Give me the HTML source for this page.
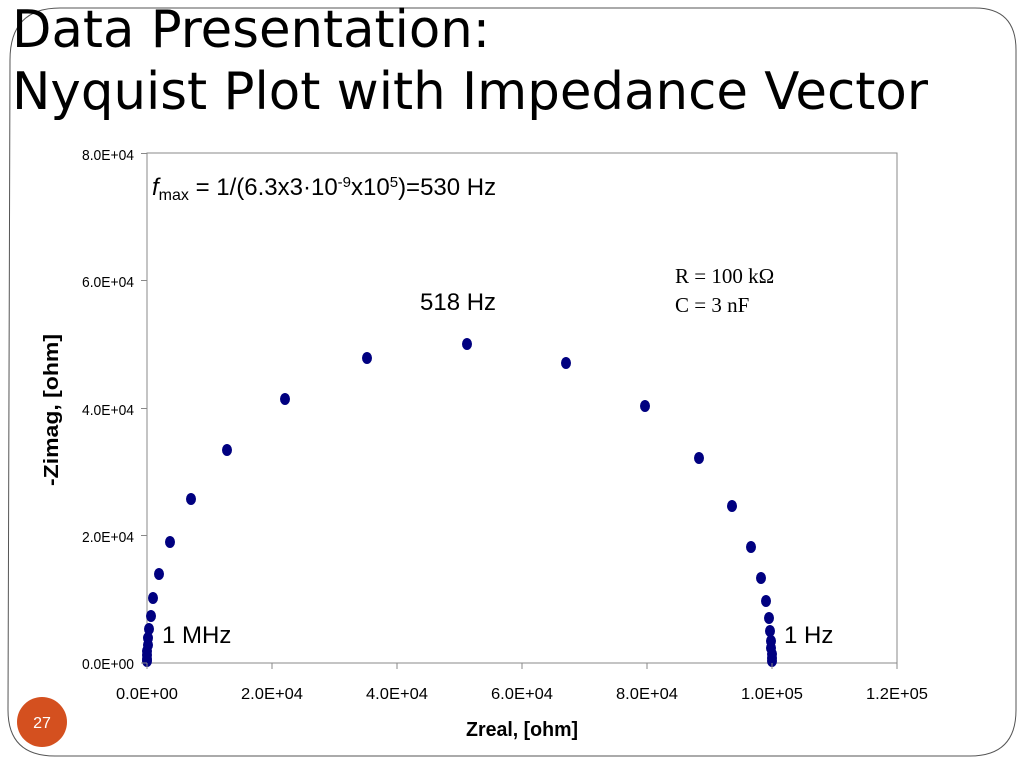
<!DOCTYPE html>
<html><head><style>
body{margin:0;width:1024px;height:768px;background:#fff;overflow:hidden;font-family:"Liberation Sans",sans-serif;}
</style></head><body>
<svg width="1024" height="768" xmlns="http://www.w3.org/2000/svg">
<path d="M10,60 Q10,8 60,8 L975,8 Q1016,8 1016,50 L1016,710 Q1016,756 970,756 L55,756 Q8,756 8,710 Z" fill="none" stroke="#555" stroke-width="1"/>
<text x="12" y="47" font-family="DejaVu Sans, sans-serif" font-size="52" fill="#000" textLength="478" lengthAdjust="spacingAndGlyphs">Data Presentation:</text>
<text x="12" y="109" font-family="DejaVu Sans, sans-serif" font-size="52" fill="#000" textLength="916" lengthAdjust="spacingAndGlyphs">Nyquist Plot with Impedance Vector</text>
<rect x="147" y="153" width="750" height="510" fill="none" stroke="#888" stroke-width="1"/>
<g font-size="15" fill="#000" text-anchor="end">
<text x="134" y="160" textLength="52" lengthAdjust="spacingAndGlyphs">8.0E+04</text><text x="134" y="287" textLength="52" lengthAdjust="spacingAndGlyphs">6.0E+04</text><text x="134" y="415" textLength="52" lengthAdjust="spacingAndGlyphs">4.0E+04</text><text x="134" y="542" textLength="52" lengthAdjust="spacingAndGlyphs">2.0E+04</text><text x="134" y="669" textLength="52" lengthAdjust="spacingAndGlyphs">0.0E+00</text>
</g>
<g font-size="16" fill="#000">
<text x="116" y="699" textLength="62" lengthAdjust="spacingAndGlyphs">0.0E+00</text><text x="241" y="699" textLength="62" lengthAdjust="spacingAndGlyphs">2.0E+04</text><text x="366" y="699" textLength="62" lengthAdjust="spacingAndGlyphs">4.0E+04</text><text x="491" y="699" textLength="62" lengthAdjust="spacingAndGlyphs">6.0E+04</text><text x="616" y="699" textLength="62" lengthAdjust="spacingAndGlyphs">8.0E+04</text><text x="741" y="699" textLength="62" lengthAdjust="spacingAndGlyphs">1.0E+05</text><text x="866" y="699" textLength="62" lengthAdjust="spacingAndGlyphs">1.2E+05</text>
</g>
<text x="522" y="736" font-size="20" font-weight="bold" text-anchor="middle" textLength="112" lengthAdjust="spacingAndGlyphs">Zreal, [ohm]</text>
<text transform="translate(58,410) rotate(-90)" font-size="20" font-weight="bold" text-anchor="middle" textLength="152" lengthAdjust="spacingAndGlyphs">-Zimag, [ohm]</text>
<text x="152" y="195" font-size="24"><tspan font-style="italic">f</tspan><tspan font-size="16" dy="5">max</tspan><tspan dy="-5"> = 1/(6.3x3·10</tspan><tspan font-size="15" dy="-8">-9</tspan><tspan dy="8">x10</tspan><tspan font-size="15" dy="-8">5</tspan><tspan dy="8">)=530 Hz</tspan></text>
<text x="420" y="310" font-size="24">518 Hz</text>
<text x="675" y="283" font-size="21" font-family="Liberation Serif, serif">R = 100 kΩ</text>
<text x="675" y="312" font-size="21" font-family="Liberation Serif, serif">C = 3 nF</text>
<text x="162" y="643" font-size="24">1 MHz</text>
<text x="784" y="643" font-size="24">1 Hz</text>
<g fill="#000080">
<ellipse cx="151" cy="616" rx="5" ry="6"/><ellipse cx="153" cy="598" rx="5" ry="6"/><ellipse cx="159" cy="574" rx="5" ry="6"/><ellipse cx="170" cy="542" rx="5" ry="6"/><ellipse cx="191" cy="499" rx="5" ry="6"/><ellipse cx="227" cy="450" rx="5" ry="6"/><ellipse cx="285" cy="399" rx="5" ry="6"/><ellipse cx="367" cy="358" rx="5" ry="6"/><ellipse cx="467" cy="344" rx="5" ry="6"/><ellipse cx="566" cy="363" rx="5" ry="6"/><ellipse cx="645" cy="406" rx="5" ry="6"/><ellipse cx="699" cy="458" rx="5" ry="6"/><ellipse cx="732" cy="506" rx="5" ry="6"/><ellipse cx="751" cy="547" rx="5" ry="6"/><ellipse cx="761" cy="578" rx="5" ry="6"/><ellipse cx="766" cy="601" rx="5" ry="6"/><ellipse cx="769" cy="618" rx="5" ry="6"/><ellipse cx="770" cy="631" rx="5" ry="6"/><ellipse cx="771" cy="641" rx="5" ry="6"/><ellipse cx="771" cy="648" rx="5" ry="6"/><ellipse cx="772" cy="654" rx="5" ry="6"/><ellipse cx="772" cy="658" rx="5" ry="6"/><ellipse cx="772" cy="661" rx="5" ry="6"/>
<ellipse cx="149" cy="629" rx="5" ry="6"/><ellipse cx="148" cy="638" rx="5" ry="6"/><ellipse cx="148" cy="645" rx="5" ry="6"/><ellipse cx="147" cy="651" rx="5" ry="6"/><ellipse cx="147" cy="655" rx="5" ry="6"/><ellipse cx="147" cy="659" rx="5" ry="6"/><ellipse cx="147" cy="661" rx="5" ry="6"/>
</g>
<g stroke="#888" stroke-width="1">
<line x1="141" y1="153.5" x2="147" y2="153.5"/><line x1="141" y1="280.5" x2="147" y2="280.5"/><line x1="141" y1="408.5" x2="147" y2="408.5"/><line x1="141" y1="535.5" x2="147" y2="535.5"/><line x1="141" y1="663" x2="147" y2="663"/>
<line x1="147" y1="663" x2="147" y2="669"/><line x1="272" y1="663" x2="272" y2="669"/><line x1="397" y1="663" x2="397" y2="669"/><line x1="522" y1="663" x2="522" y2="669"/><line x1="647" y1="663" x2="647" y2="669"/><line x1="772" y1="663" x2="772" y2="669"/><line x1="897" y1="663" x2="897" y2="669"/>
</g>
<circle cx="42" cy="722" r="25" fill="#d4501f"/>
<text x="42" y="728" font-size="16" fill="#fff" text-anchor="middle">27</text>
</svg>
</body></html>
